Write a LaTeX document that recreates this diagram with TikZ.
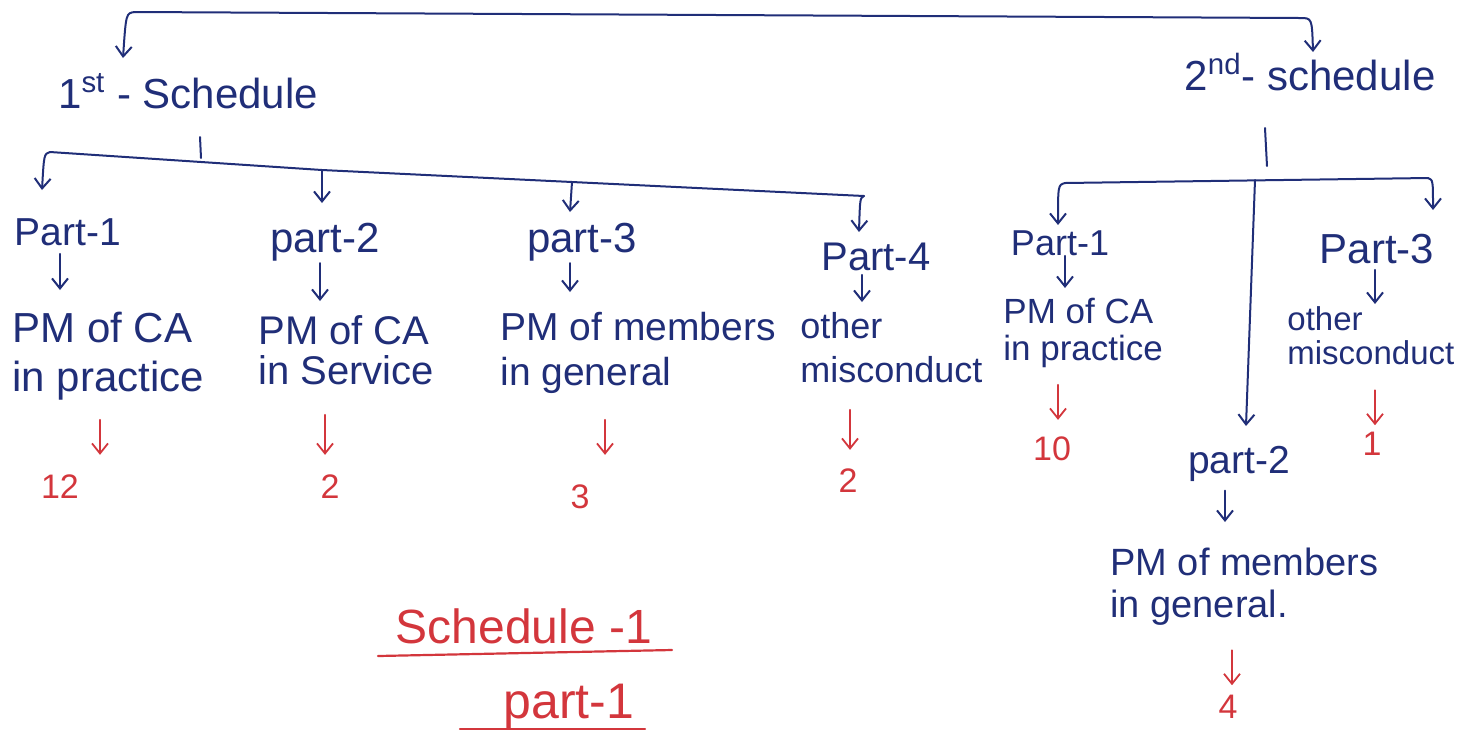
\documentclass[tikz,border=0pt]{standalone}
\usepackage{fontspec}
\setmainfont{Liberation Sans}
\usetikzlibrary{arrows.meta,calc}
\definecolor{ink}{HTML}{202E78}
\definecolor{rink}{HTML}{D3363C}
\begin{document}
\begin{tikzpicture}[x=0.5pt,y=-0.5pt,
  fs/.style 2 args={font=\fontsize{#1}{#2}\selectfont},
  lbl/.style={inner sep=0pt,text=ink,anchor=base},
  desc/.style={inner sep=0pt,text=ink,align=left,anchor=north west},
  num/.style={inner sep=0pt,text=rink,anchor=base,fs={17}{20}},
  big/.style={inner sep=0pt,text=rink,anchor=base,fs={24}{28}},
  link/.style={draw=ink,line width=1pt,line cap=round,line join=round},
  arr/.style={link,-{Straight Barb[length=5pt,width=8pt,line width=1pt]}},
  rarr/.style={draw=rink,line width=0.9pt,line cap=round,-{Straight Barb[length=5pt,width=8pt,line width=0.9pt]}},
  rline/.style={draw=rink,line width=1.1pt,line cap=round}]
\useasboundingbox (0,0) rectangle (1463,730);

% headers
\node[lbl,fs={21}{24}] (s1) at (188,108) {1\textsuperscript{st} - Schedule};
\node[lbl,fs={21}{24}] (s2) at (1310,90) {2\textsuperscript{nd}- schedule};

% top bracket
\coordinate (t0) at (135,12);
\coordinate (t1) at (1300,18);
\coordinate (t0a) at (123,58);
\coordinate (t1a) at (1313,52);
\draw[link] (t0) -- (t1);
\draw[arr] (t0) .. controls (126,13) .. (t0a);
\draw[arr] (t1) .. controls (1312,18) .. (t1a);

% first schedule parts
\node[lbl,fs={19.5}{22}] (p11) at (68,245) {Part-1};
\node[lbl,fs={21}{24}] (p12) at (325,252) {part-2};
\node[lbl,fs={21}{24}] (p13) at (582,252) {part-3};
\node[lbl,fs={20}{24}] (p14) at (876,270) {Part-4};

\coordinate (u0) at (200,137);
\coordinate (u1) at (201,158);
\draw[link] (u0) -- (u1);
\coordinate (b10) at (50,152);
\coordinate (b11) at (322,170);
\coordinate (b12) at (572,182);
\coordinate (b13) at (864,196);
\draw[link] (b10) -- (b11) -- (b12) -- (b13);
\coordinate (c11) at (42,190);
\coordinate (c12) at (322,203);
\coordinate (c13) at (570,212);
\coordinate (c14) at (859,232);
\draw[arr] (b10) .. controls (44,154) .. (c11);
\draw[arr] (b11) -- (c12);
\draw[arr] (b12) -- (c13);
\draw[arr] (b13) .. controls (860,198) .. (c14);

% first schedule descriptions
\node[desc,fs={21}{24.5}] (d11) at (12,312) {PM of CA\\in practice};
\node[desc,fs={20}{20}] (d12) at (258,315) {PM of CA\\in Service};
\node[desc,fs={19.5}{22.5}] (d13) at (500,312) {PM of members\\in general};
\node[desc,fs={18}{22}] (d14) at (800,312) {other\\misconduct};

\draw[arr] ($(p11.south)+(-8,8)$) -- ($(p11.south |- d11.north)+(-8,-22)$);
\draw[arr] ($(p12.south)+(-5,2)$) -- ($(p12.south |- d12.north)+(-5,-14)$);
\draw[arr] ($(p13.south)+(-12,2)$) -- ($(p13.south |- d13.north)+(-12,-20)$);
\draw[arr] ($(p14.south)+(-14,4)$) -- ($(p14.south |- d14.north)+(-14,-10)$);

% first schedule numbers
\node[num] (n11) at (60,498) {12};
\node[num] (n12) at (330,498) {2};
\node[num] (n13) at (580,508) {3};
\node[num] (n14) at (848,492) {2};
\draw[rarr] ($(n11.north)+(40,-54)$) -- ($(n11.north)+(40,-19)$);
\draw[rarr] ($(n12.north)+(-5,-59)$) -- ($(n12.north)+(-5,-19)$);
\draw[rarr] ($(n13.north)+(25,-64)$) -- ($(n13.north)+(25,-29)$);
\draw[rarr] ($(n14.north)+(2,-58)$) -- ($(n14.north)+(2,-18)$);

% second schedule
\coordinate (v0) at (1265,128);
\coordinate (v1) at (1267,166);
\draw[link] (v0) -- (v1);
\coordinate (q0) at (1065,183);
\coordinate (q1) at (1428,178);
\coordinate (q0a) at (1058,225);
\coordinate (q1a) at (1433,210);
\draw[link] (q0) -- (q1);
\draw[arr] (q0) .. controls (1058,185) .. (q0a);
\draw[arr] (q1) .. controls (1433,180) .. (q1a);
\coordinate (m0) at (1255,180);
\coordinate (m1) at (1246,426);
\draw[arr] (m0) -- (m1);

\node[lbl,fs={18}{22}] (p21) at (1060,255) {Part-1};
\node[lbl,fs={21}{24}] (p23) at (1377,263) {Part-3};
\node[lbl,fs={19.5}{22}] (p22) at (1239,473) {part-2};

\node[desc,fs={17.5}{18.5}] (d21) at (1003,298) {PM of CA\\in practice};
\node[desc,fs={16.5}{17}] (d23) at (1287,306) {other\\misconduct};
\node[desc,fs={19}{21}] (d22) at (1110,548) {PM of members\\in general.};

\draw[arr] ($(p21.south)+(5,0)$) -- ($(p21.south |- d21.north)+(5,-10)$);
\draw[arr] ($(p23.south)+(-2,6)$) -- ($(p23.south |- d23.north)+(-2,-2)$);
\draw[arr] ($(p22.south)+(-14,9)$) -- ($(p22.south |- d22.north)+(-14,-26)$);

\node[num] (n21) at (1052,460) {10};
\node[num] (n23) at (1372,455) {1};
\node[num] (n22) at (1228,718) {4};
\draw[rarr] ($(n21.north)+(6,-51)$) -- ($(n21.north)+(6,-16)$);
\draw[rarr] ($(n23.north)+(3,-41)$) -- ($(n23.north)+(3,-6)$);
\draw[rarr] ($(n22.north)+(4,-44)$) -- ($(n22.north)+(4,-9)$);

% bottom heading
\node[big] (h1) at (524,643) {Schedule -1};
\node[big,fs={25}{30}] (h2) at (569,718) {part-1};
\draw[rline] (378,656) -- (672,650);
\draw[rline] (460,729) -- (645,729);
\end{tikzpicture}
\end{document}
